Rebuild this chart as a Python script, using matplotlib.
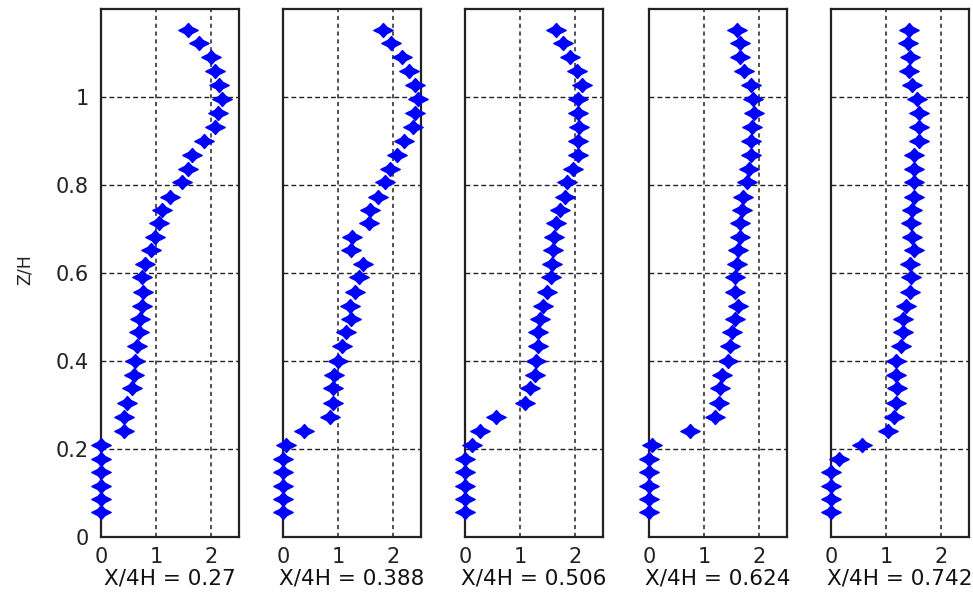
import matplotlib
matplotlib.use("Agg")
import matplotlib.pyplot as plt
from matplotlib.path import Path

# Heights Z/H (shared by all profiles)
z = [1.152, 1.122, 1.090, 1.060, 1.028, 0.995, 0.963, 0.932, 0.901, 0.869,
     0.836, 0.806, 0.773, 0.743, 0.713, 0.681, 0.652, 0.620, 0.590, 0.557,
     0.525, 0.495, 0.465, 0.433, 0.401, 0.368, 0.338, 0.304, 0.273, 0.241,
     0.210, 0.177, 0.147, 0.117, 0.086, 0.056]

u_027 = [1.57, 1.78, 1.99, 2.06, 2.14, 2.19, 2.12, 2.06, 1.87, 1.64,
         1.57, 1.46, 1.25, 1.10, 1.05, 0.98, 0.90, 0.80, 0.74, 0.76,
         0.74, 0.71, 0.69, 0.66, 0.61, 0.60, 0.57, 0.48, 0.41, 0.41,
         0.0, 0.0, 0.0, 0.0, 0.0, 0.0]
u_0388 = [1.81, 1.96, 2.15, 2.28, 2.40, 2.45, 2.40, 2.36, 2.20, 2.06,
          1.93, 1.84, 1.73, 1.58, 1.55, 1.25, 1.23, 1.45, 1.37, 1.30,
          1.22, 1.23, 1.14, 1.07, 0.99, 0.93, 0.90, 0.90, 0.85, 0.38,
          0.05, 0.0, 0.0, 0.0, 0.0, 0.0]
u_0506 = [1.65, 1.78, 1.91, 2.03, 2.12, 2.04, 2.04, 2.06, 2.05, 2.05,
          1.96, 1.85, 1.82, 1.73, 1.65, 1.62, 1.59, 1.58, 1.55, 1.48,
          1.41, 1.36, 1.33, 1.33, 1.29, 1.27, 1.18, 1.09, 0.56, 0.27,
          0.12, 0.0, 0.0, 0.0, 0.0, 0.0]
u_0624 = [1.59, 1.65, 1.65, 1.73, 1.84, 1.88, 1.91, 1.87, 1.84, 1.84,
          1.81, 1.78, 1.71, 1.69, 1.65, 1.65, 1.61, 1.59, 1.55, 1.56,
          1.61, 1.55, 1.50, 1.47, 1.44, 1.33, 1.29, 1.26, 1.19, 0.75,
          0.05, 0.0, 0.0, 0.0, 0.0, 0.0]
u_0742 = [1.41, 1.39, 1.44, 1.42, 1.47, 1.56, 1.59, 1.59, 1.60, 1.51,
          1.51, 1.51, 1.50, 1.47, 1.45, 1.47, 1.51, 1.44, 1.45, 1.44,
          1.35, 1.30, 1.30, 1.27, 1.18, 1.18, 1.19, 1.18, 1.15, 1.03,
          0.57, 0.15, 0.0, 0.0, 0.0, 0.0]

profiles = [u_027, u_0388, u_0506, u_0624, u_0742]
titles = ["X/4H = 0.27", "X/4H = 0.388", "X/4H = 0.506", "X/4H = 0.624", "X/4H = 0.742"]
x_ticks = [0, 1, 2]
y_ticks = [0, 0.2, 0.4, 0.6, 0.8, 1.0]
y_ticklabels = ["0", "0.2", "0.4", "0.6", "0.8", "1"]

plt.rcParams['font.family'] = ['DejaVu Sans']

# 4-pointed star marker (wider than tall) with a solid body
h, r, q = 0.72, 0.36, 0.32
star = Path([(1, 0), (r, q), (0, h), (-r, q), (-1, 0), (-r, -q),
             (0, -h), (r, -q), (1, 0)],
            [Path.MOVETO] + [Path.LINETO]*7 + [Path.CLOSEPOLY])

W, H = 973, 592
fig = plt.figure(figsize=(W/100, H/100), dpi=100)
lefts = [101, 283, 465, 649, 831]
width = 138
bottom_px, top_px = 537, 9

for i, (u, t) in enumerate(zip(profiles, titles)):
    ax = fig.add_axes([lefts[i]/W, 1 - bottom_px/H, width/W, (bottom_px - top_px)/H])
    ax.plot(u, z, linestyle='none', marker=star, markersize=14,
            color='#0000ff', markeredgecolor='#0000ff', markeredgewidth=1.0,
            clip_on=False, zorder=5)
    ax.set_xlim(0, 2.5)
    ax.set_ylim(0, 1.2)
    ax.set_xticks(x_ticks)
    ax.set_xticklabels([str(v) for v in x_ticks])
    ax.set_yticks(y_ticks)
    if i == 0:
        ax.set_yticklabels(y_ticklabels)
    else:
        ax.set_yticklabels([])
    ax.tick_params(length=0, labelsize=15, colors='#222222', pad=7)
    ax.tick_params(axis='y', pad=9)
    ax.xaxis.grid(True, color='#333333', linestyle=(0, (2.5, 2.2)), linewidth=1.2)
    ax.yaxis.grid(True, color='#222222', linestyle=(0, (3.5, 2.2)), linewidth=1.0)
    ax.set_axisbelow(True)
    for s in ax.spines.values():
        s.set_linewidth(1.6)
        s.set_color('#222222')
    ax.set_xlabel(t, fontsize=15.5, labelpad=1, color='#111111')

fig.text(25/W, 1 - 270/H, "Z/H", rotation=90, ha='center', va='center', fontsize=12.5, color='#222222')

fig.savefig("out.png", dpi=100)
